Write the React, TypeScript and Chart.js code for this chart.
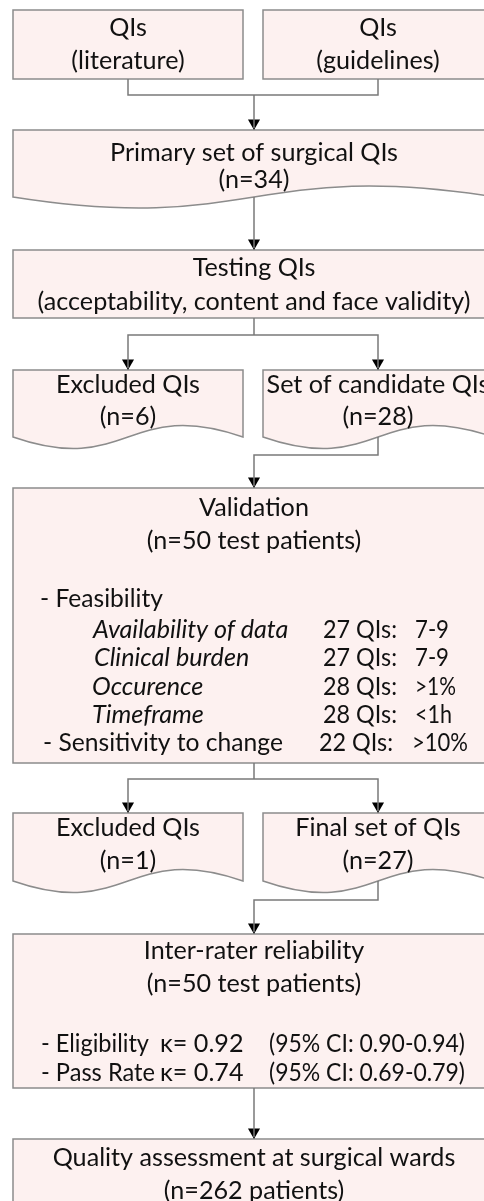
import { useEffect, useRef } from "react";
import { Chart, registerables } from "chart.js";

Chart.register(...registerables);

// ---------- content (data) ----------
const sourceLabels = ["(literature)", "(guidelines)"];
const primaryCount = 34;
const testingCriteria = "acceptability, content and face validity";
const excludedAfterTesting = 6;
const candidateCount = 28;
const validationPatients = 50;
const feasibilityCriteria = ["Availability of data", "Clinical burden", "Occurence", "Timeframe"];
const feasibilityCounts = [27, 27, 28, 28];
const feasibilityThresholds = ["7-9", "7-9", ">1%", "<1h"];
const sensitivityCount = 22;
const sensitivityThreshold = ">10%";
const excludedAfterValidation = 1;
const finalCount = 27;
const reliabilityPatients = 50;
const reliabilityItems = ["Eligibility", "Pass Rate"];
const kappaValues = ["0.92", "0.74"];
const kappaCI = ["0.90-0.94", "0.69-0.79"];
const assessmentPatients = 262;

// ---------- layout (flowchart units) ----------
const W = 484;
const H = 1201;
const LX = 128; // left column centre
const RX = 378; // right column centre
const CX = 254; // main centre

type Box = { kind: "rect" | "doc"; l: number; r: number; t: number; b: number; wave: number; cx: number; lines: string[]; ly: number[] };

const boxes: Box[] = [
  { kind: "rect", l: 13, r: 243, t: 10, b: 79, wave: 0, cx: LX, lines: ["QIs", sourceLabels[0]], ly: [28, 61] },
  { kind: "rect", l: 263, r: 493, t: 10, b: 79, wave: 0, cx: RX, lines: ["QIs", sourceLabels[1]], ly: [28, 61] },
  { kind: "doc", l: 13, r: 495, t: 130, b: 197, wave: 38, cx: CX, lines: ["Primary set of surgical QIs", `(n=${primaryCount})`], ly: [153, 180] },
  { kind: "rect", l: 13, r: 495, t: 250, b: 318, wave: 0, cx: CX, lines: ["Testing QIs", `(${testingCriteria})`], ly: [268, 302] },
  { kind: "doc", l: 13, r: 243, t: 370, b: 437, wave: 40, cx: LX, lines: ["Excluded QIs", `(n=${excludedAfterTesting})`], ly: [385, 417] },
  { kind: "doc", l: 263, r: 493, t: 370, b: 437, wave: 40, cx: RX, lines: ["Set of candidate QIs", `(n=${candidateCount})`], ly: [385, 417] },
  { kind: "rect", l: 13, r: 495, t: 488, b: 763, wave: 0, cx: CX, lines: ["Validation", `(n=${validationPatients} test patients)`], ly: [508, 541] },
  { kind: "doc", l: 13, r: 243, t: 813, b: 881, wave: 40, cx: LX, lines: ["Excluded QIs", `(n=${excludedAfterValidation})`], ly: [828, 861] },
  { kind: "doc", l: 263, r: 493, t: 813, b: 881, wave: 40, cx: RX, lines: ["Final set of QIs", `(n=${finalCount})`], ly: [828, 861] },
  { kind: "rect", l: 13, r: 495, t: 934, b: 1088, wave: 0, cx: CX, lines: ["Inter-rater reliability", `(n=${reliabilityPatients} test patients)`], ly: [951, 984] },
  { kind: "rect", l: 13, r: 495, t: 1139, b: 1230, wave: 0, cx: CX, lines: ["Quality assessment at surgical wards", `(n=${assessmentPatients} patients)`], ly: [1158, 1191] },
];

type Row = { text: string; x: number; y: number; align?: CanvasTextAlign; italic?: boolean; maxW?: number };
const featRowY = [630, 658, 687, 715];
const featNameX = [93, 94, 92, 92];
const featNameMaxW = [205, 162, 114, 118];
const featThreshMaxW = [34, 34, 41, 37];
const relRowY = [1044, 1073];
const relItemMaxW = [108, 114];

const rows: Row[] = [
  { text: "- Feasibility", x: 40, y: 599, maxW: 123 },
  ...feasibilityCriteria.flatMap((c, i): Row[] => [
    { text: c, x: featNameX[i], y: featRowY[i], italic: true, maxW: featNameMaxW[i] },
    { text: `${feasibilityCounts[i]} QIs:`, x: 397, y: featRowY[i], align: "right", maxW: 74 },
    { text: feasibilityThresholds[i], x: 415, y: featRowY[i], maxW: featThreshMaxW[i] },
  ]),
  { text: "- Sensitivity to change", x: 43, y: 743, maxW: 240 },
  { text: `${sensitivityCount} QIs:`, x: 393, y: 743, align: "right", maxW: 74 },
  { text: sensitivityThreshold, x: 412, y: 743, maxW: 56 },
  ...reliabilityItems.flatMap((it, i): Row[] => [
    { text: `- ${it}`, x: 41, y: relRowY[i], maxW: relItemMaxW[i] },
    { text: `\u03BA= ${kappaValues[i]}`, x: 160, y: relRowY[i], maxW: 101 },
    { text: `(95% CI: ${kappaCI[i]})`, x: 465, y: relRowY[i], align: "right", maxW: 196 },
  ]),
];

const connectors: { x: number; y: number }[][] = [
  [{ x: LX, y: 79 }, { x: LX, y: 95 }, { x: RX, y: 95 }, { x: RX, y: 79 }],
  [{ x: CX, y: 95 }, { x: CX, y: 128 }],
  [{ x: CX, y: 197 }, { x: CX, y: 248 }],
  [{ x: CX, y: 318 }, { x: CX, y: 335 }],
  [{ x: LX, y: 368 }, { x: LX, y: 335 }, { x: RX, y: 335 }, { x: RX, y: 368 }],
  [{ x: RX, y: 437 }, { x: RX, y: 455 }, { x: CX, y: 455 }, { x: CX, y: 486 }],
  [{ x: CX, y: 763 }, { x: CX, y: 779 }],
  [{ x: LX, y: 811 }, { x: LX, y: 779 }, { x: RX, y: 779 }, { x: RX, y: 811 }],
  [{ x: RX, y: 881 }, { x: RX, y: 900 }, { x: CX, y: 900 }, { x: CX, y: 932 }],
  [{ x: CX, y: 1088 }, { x: CX, y: 1137 }],
];

const ARROW_R = 7;
const arrowTips = [
  { x: CX, y: 130 },
  { x: CX, y: 250 },
  { x: LX, y: 370 },
  { x: RX, y: 370 },
  { x: CX, y: 488 },
  { x: LX, y: 813 },
  { x: RX, y: 813 },
  { x: CX, y: 934 },
  { x: CX, y: 1139 },
];

const FONT = "Lato, 'Open Sans', 'DejaVu Sans', sans-serif";
const FIT_TEXT = `(${testingCriteria})`;
const FIT_WIDTH = 433;

const flowPlugin = {
  id: "flow",
  beforeDatasetsDraw(chart: any) {
    const ctx = chart.ctx as CanvasRenderingContext2D;
    const xs = chart.scales.x;
    const ys = chart.scales.y;
    ctx.save();
    for (const b of boxes) {
      const l = xs.getPixelForValue(b.l);
      const r = xs.getPixelForValue(b.r);
      const t = ys.getPixelForValue(b.t);
      const bt = ys.getPixelForValue(b.b);
      ctx.beginPath();
      ctx.moveTo(l, bt);
      ctx.lineTo(l, t);
      ctx.lineTo(r, t);
      ctx.lineTo(r, bt);
      if (b.kind === "doc") {
        const mx = (l + r) / 2;
        const k = b.wave;
        ctx.bezierCurveTo(mx, bt - k, mx, bt + k, l, bt);
      }
      ctx.closePath();
      ctx.fillStyle = "#fdf1f0";
      ctx.fill();
      ctx.strokeStyle = "#8c8c8c";
      ctx.lineWidth = 1.5;
      ctx.stroke();
    }
    ctx.restore();
  },
  afterDatasetsDraw(chart: any) {
    const ctx = chart.ctx as CanvasRenderingContext2D;
    const xs = chart.scales.x;
    const ys = chart.scales.y;
    ctx.save();
    ctx.font = `20px ${FONT}`;
    const size = (20 * FIT_WIDTH) / ctx.measureText(FIT_TEXT).width;
    ctx.fillStyle = "#111111";
    ctx.textBaseline = "middle";
    ctx.font = `${size}px ${FONT}`;
    ctx.textAlign = "center";
    for (const b of boxes) {
      b.lines.forEach((s, i) => {
        ctx.fillText(s, xs.getPixelForValue(b.cx), ys.getPixelForValue(b.ly[i]));
      });
    }
    for (const r of rows) {
      ctx.font = `${r.italic ? "italic " : ""}${size}px ${FONT}`;
      ctx.textAlign = r.align || "left";
      const px = xs.getPixelForValue(r.x);
      const py = ys.getPixelForValue(r.y);
      if (r.maxW) ctx.fillText(r.text, px, py, r.maxW);
      else ctx.fillText(r.text, px, py);
    }
    ctx.restore();
  },
};

export default function App() {
  const ref = useRef<HTMLCanvasElement | null>(null);
  useEffect(() => {
    if (!ref.current) return;
    const datasets: any[] = connectors.map((pts) => ({
      type: "scatter",
      data: pts,
      showLine: true,
      borderColor: "#7a7a7a",
      borderWidth: 1.5,
      pointRadius: 0,
      fill: false,
      tension: 0,
    }));
    datasets.push({
      type: "scatter",
      data: arrowTips.map((p) => ({ x: p.x, y: p.y - ARROW_R })),
      pointStyle: "triangle",
      rotation: 180,
      pointRadius: ARROW_R,
      backgroundColor: "#000000",
      borderColor: "#000000",
      borderWidth: 0,
      showLine: false,
    });
    const chart = new Chart(ref.current, {
      type: "scatter",
      data: { datasets },
      options: {
        animation: false,
        responsive: false,
        devicePixelRatio: 1,
        events: [],
        layout: { padding: 0, autoPadding: false },
        plugins: { legend: { display: false }, tooltip: { enabled: false } },
        scales: {
          x: { type: "linear", min: 0, max: W, display: false },
          y: { type: "linear", min: 0, max: H, reverse: true, display: false },
        },
      },
      plugins: [flowPlugin],
    });
    return () => chart.destroy();
  }, []);
  return (
    <div style={{ position: "absolute", left: 0, top: 0, width: W, height: H, background: "#ffffff" }}>
      <canvas ref={ref} width={W} height={H} style={{ display: "block", width: W, height: H }} />
    </div>
  );
}
